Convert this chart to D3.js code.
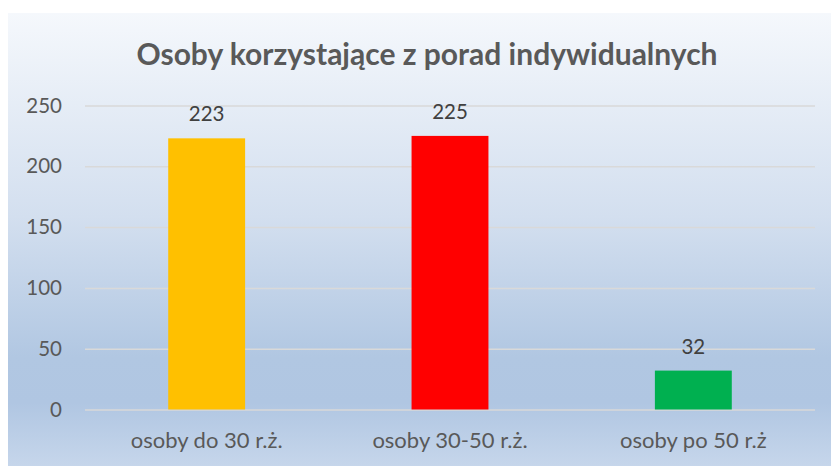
<!DOCTYPE html>
<html><head><meta charset="utf-8">
<script src="https://cdn.jsdelivr.net/npm/d3@7"></script>
<style>html,body{margin:0;padding:0;background:#fff;}svg{display:block;}</style>
</head><body>
<script>
const title = "Osoby korzystające z porad indywidualnych";
const categories = ["osoby do 30 r.ż.", "osoby 30-50 r.ż.", "osoby po 50 r.ż"];
const values = [223, 225, 32];
const barColors = ["#FFC000", "#FF0000", "#00B050"];
const yTicks = [0, 50, 100, 150, 200, 250];

const W = 831, H = 466;
const font = "Lato, 'Open Sans', sans-serif";
const svg = d3.select("body").append("svg").attr("width", W).attr("height", H);
const defs = svg.append("defs");
const g = defs.append("linearGradient").attr("id","bg").attr("x1",0).attr("y1",0).attr("x2",0).attr("y2",1);
[[0,"#f5f8fc"],[0.45,"#d3dfef"],[0.76,"#b1c7e2"],[0.86,"#b0c6e2"],[1,"#c6d6eb"]].forEach(s=>g.append("stop").attr("offset",s[0]).attr("stop-color",s[1]));
svg.append("rect").attr("x",8).attr("y",13).attr("width",W-8).attr("height",H-13).attr("fill","url(#bg)");

const x = d3.scaleBand().domain(categories).range([85, 815]).paddingInner(0.684).paddingOuter(0.342);
const y = d3.scaleLinear().domain([0, 250]).range([409.5, 105.5]);

// gridlines
const grid = svg.append("g").attr("transform","translate(85,0)")
  .call(d3.axisLeft(y).tickValues(yTicks).tickSize(-(815-85)).tickFormat(""));
grid.select(".domain").remove();
grid.selectAll("line").attr("stroke","#d9d9d9").attr("stroke-width",1.5);

// y labels
const ya = svg.append("g").attr("transform","translate(85,0)")
  .call(d3.axisLeft(y).tickValues(yTicks).tickSize(0).tickPadding(23));
ya.select(".domain").remove();
ya.selectAll("text").attr("font-family",font).attr("font-size",20.5).attr("fill","#595959");

// bars
svg.selectAll(".bar").data(values).enter().append("rect")
  .attr("x",(d,i)=>x(categories[i])).attr("width",x.bandwidth())
  .attr("y",d=>y(d)).attr("height",d=>y(0)-y(d))
  .attr("fill",(d,i)=>barColors[i]);

// data labels
svg.selectAll(".lbl").data(values).enter().append("text")
  .attr("x",(d,i)=>x(categories[i])+x.bandwidth()/2).attr("y",d=>y(d)-17)
  .attr("text-anchor","middle").attr("font-family",font).attr("font-size",20.5).attr("fill","#404040")
  .text(d=>d);

// x labels
const xa = svg.append("g").attr("transform","translate(0,409.5)")
  .call(d3.axisBottom(x).tickSize(0).tickPadding(23));
xa.select(".domain").remove();
xa.selectAll("text").attr("font-family",font).attr("font-size",22).attr("fill","#595959");

// title
svg.append("text").attr("x",427).attr("y",65).attr("text-anchor","middle")
  .attr("font-family",font).attr("font-weight","bold").attr("font-size",30).attr("fill","#595959").text(title);
</script>
</body></html>
